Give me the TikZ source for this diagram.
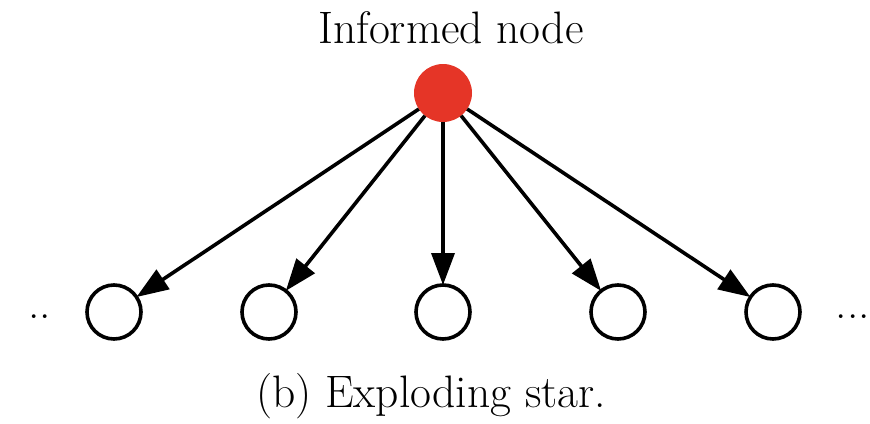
\documentclass[tikz,border=0pt]{standalone}
\usetikzlibrary{arrows.meta}
\definecolor{infred}{HTML}{E53527}
\begin{document}
\begin{tikzpicture}[x=1pt,y=-1pt,
  leaf/.style={circle,draw=black,line width=3.6pt,fill=white,minimum size=54pt,inner sep=0pt,outer sep=0pt},
  src/.style={circle,fill=infred,draw=none,minimum size=58pt,inner sep=0pt,outer sep=0pt},
  edge/.style={line width=3.6pt,-{Triangle[length=32pt,width=23pt]}},
  lbl/.style={font=\fontsize{45.5}{52}\selectfont,inner sep=0pt,anchor=base}]
\useasboundingbox (0,0) rectangle (870,423);
\node[src] (top) at (443,93) {};
\node[lbl] (title) at (451,43) {Informed node};
\node[leaf] (b1) at (114,312) {};
\node[leaf] (b2) at (269,312) {};
\node[leaf] (b3) at (443,312) {};
\node[leaf] (b4) at (618,312) {};
\node[leaf] (b5) at (773,312) {};
\node[lbl] (ldots) at (40,318) {..};
\node[lbl] (rdots) at (853,318) {...};
\node[lbl] (cap) at (431,407) {(b) Exploding star.};
\foreach \b in {b1,b2,b3,b4,b5} \draw[edge] (top) -- (\b);
\end{tikzpicture}
\end{document}
